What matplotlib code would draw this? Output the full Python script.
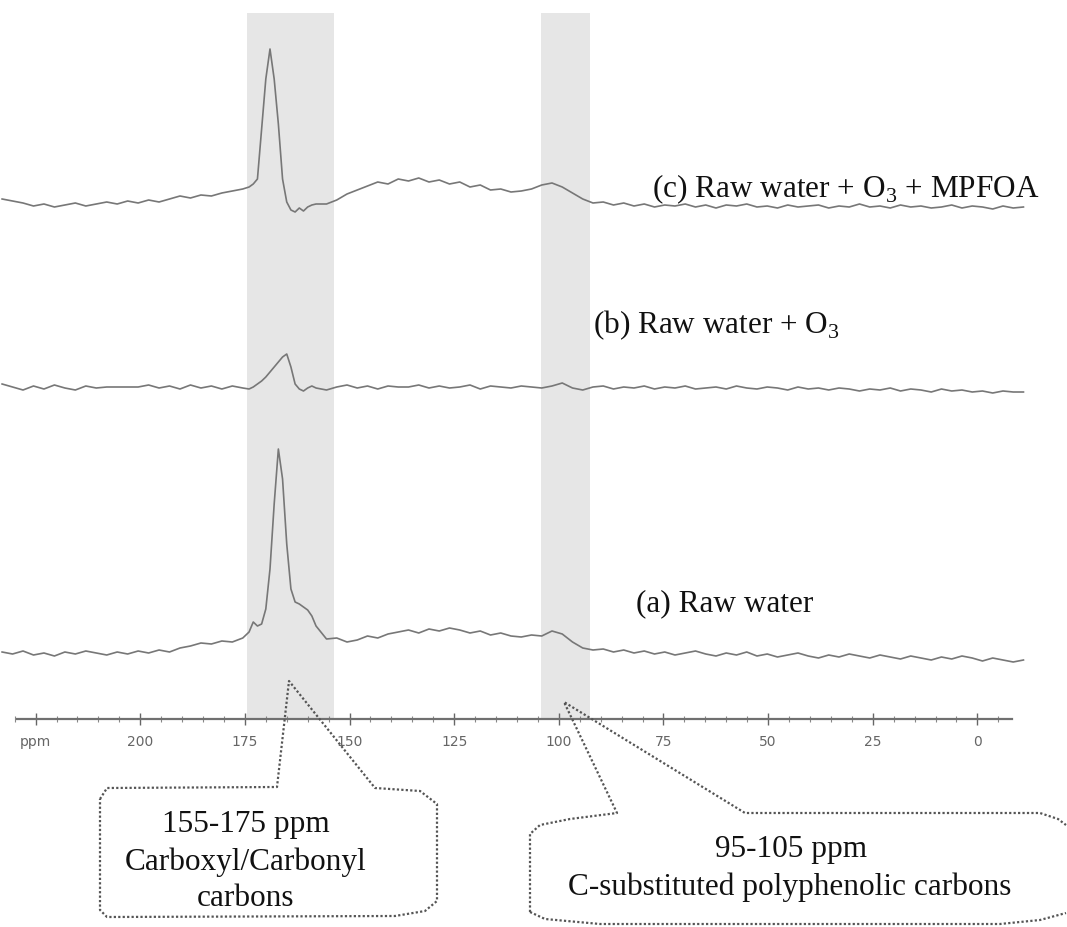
import numpy as np
import matplotlib
matplotlib.use('Agg')
import matplotlib.pyplot as plt

plt.rcParams['mathtext.fontset'] = 'custom'
plt.rcParams['mathtext.rm'] = 'Liberation Serif'

# chemical shift grid (ppm), finer around the carbonyl peak
ppm = np.concatenate([np.linspace(233, 175.5, 24),
                      np.linspace(174, 158, 17),
                      np.linspace(155.5, -11, 69)])

# intensities (arbitrary units, baseline = 0)
raw_c = [5, 3, 1, -2, 0, -3, -1, 1, -2, 0, 2, 0, 3, 1, 4, 2, 5, 8, 6, 9, 8, 11, 13, 15,
         17, 20, 25, 75, 125, 155, 125, 80, 25, 2, -6, -8, -4, -7, -3, -1, 0,
         0, 4, 10, 14, 18, 22, 20, 25, 23, 26, 22, 24, 20, 22, 17, 19, 14, 15, 12, 13,
         15, 19, 21, 17, 11, 5, 1, 2, -1, 1, -2, 0, -3, -1, -2, 0, -3, -1, -4, -1, -2,
         0, -3, -2, -4, -1, -3, -2, -1, -4, -2, -3, 0, -3, -2, -4, -1, -3, -2, -4, -3,
         -1, -4, -2, -3, -5, -2, -4, -3]
raw_b = [3, 0, -3, 1, -2, 2, -1, -3, 1, -1, 0, 0, 0, 0, 2, -1, 1, -2, 2, -1, 1, -2, 1, -1,
         -2, 0, 3, 6, 10, 15, 20, 25, 30, 33, 20, 3, -2, -4, -1, 1, -1,
         -3, 0, 2, -1, 1, -2, 1, 0, 0, 2, -1, 1, -1, 0, 2, -2, 1, 0, -1, 1,
         0, -1, 1, 4, -1, -3, 0, 1, -2, 0, -1, 1, -2, 0, -1, 1, -2, -1, 0, -2, 1,
         -1, -2, 0, -1, -3, 0, -2, -1, -3, -1, -2, -4, -2, -3, -1, -4, -2, -3, -5, -2,
         -4, -3, -5, -4, -6, -4, -5, -5]
raw_a = [2, 0, 3, -1, 1, -2, 2, 0, 3, 1, -1, 2, 0, 3, 1, 4, 2, 6, 8, 11, 10, 13, 12, 16,
         22, 32, 28, 30, 45, 85, 150, 205, 175, 110, 65, 52, 50, 47, 44, 38, 28,
         15, 16, 12, 14, 18, 16, 20, 22, 24, 21, 25, 23, 26, 24, 21, 23, 19, 21, 18, 17,
         19, 18, 23, 20, 12, 6, 4, 5, 2, 4, 1, 3, 0, 2, -1, 1, 3, 0, -2, 1, -1,
         2, -2, 0, -3, -1, 1, -2, -4, -1, -3, 0, -2, -4, -1, -3, -5, -2, -4, -6, -3,
         -5, -2, -4, -7, -4, -6, -8, -6]

spectra = [raw_a, raw_b, raw_c]
offsets = [65, 332, 515]
labels = ['(a) Raw water', r'(b) Raw water + O$_\mathregular{3}$',
          r'(c) Raw water + O$_\mathregular{3}$ + MPFOA']

bands = [(153.6, 174.4), (92.5, 104.2)]

major_ticks = [225, 200, 175, 150, 125, 100, 75, 50, 25, 0]
major_labels = ['ppm', '200', '175', '150', '125', '100', '75', '50', '25', '0']

fig = plt.figure(figsize=(10.67, 9.28), dpi=100)
ax = fig.add_axes([0, 208 / 928, 1, 720 / 928])
ax.set_xlim(233.5, -21.4)
ax.set_ylim(0, 720)
ax.patch.set_alpha(0)

for lo, hi in bands:
    ax.axvspan(lo, hi, ymin=0, ymax=0.98, color='#e6e6e6', lw=0, zorder=0)

for y, off in zip(spectra, offsets):
    ax.plot(ppm, np.array(y) + off, color='#777777', lw=1.2, zorder=2)

for sp in ['top', 'left', 'right']:
    ax.spines[sp].set_visible(False)
ax.spines['bottom'].set_bounds(229.4, -8.3)
ax.spines['bottom'].set_color('#707070')
ax.spines['bottom'].set_linewidth(1.6)
ax.set_yticks([])
ax.set_xticks(major_ticks)
ax.set_xticklabels(major_labels)
ax.set_xticks(np.arange(230, -6, -5), minor=True)
ax.tick_params(axis='x', which='major', direction='inout', length=9, width=1,
               color='#666666', labelsize=10, labelcolor='#666666', pad=6)
ax.tick_params(axis='x', which='minor', direction='inout', length=5, width=0.8,
               color='#888888')

# overlay in pixel coordinates for labels and callouts
ov = fig.add_axes([0, 0, 1, 1], zorder=3)
ov.set_xlim(0, 1067)
ov.set_ylim(928, 0)
ov.axis('off')
ov.patch.set_alpha(0)

tfont = dict(family='Liberation Serif', fontsize=22.5, color='#111111')
ov.text(636, 604, labels[0], ha='left', va='center', **tfont)
ov.text(593, 325, labels[1], ha='left', va='center', **tfont)
ov.text(652, 189, labels[2], ha='left', va='center', **tfont)

box1 = [(100, 800), (107, 789), (277, 788), (289, 682), (375, 789), (420, 792),
        (437, 805), (437, 902), (425, 912), (395, 917), (107, 918), (100, 911), (100, 800)]
box2 = [(530, 913), (530, 835), (540, 826), (570, 820), (617, 814), (564, 703),
        (745, 814), (1040, 814), (1058, 820), (1066, 826)]
box2_bottom = [(530, 913), (545, 920), (600, 925), (1000, 925), (1040, 921), (1066, 914)]
dot = dict(color='#555555', lw=1.6, ls=(0, (1, 1)))
ov.plot(*zip(*box1), **dot)
ov.plot(*zip(*box2), **dot)
ov.plot(*zip(*box2_bottom), **dot)

ov.text(246, 825, '155-175 ppm', ha='center', va='center', **tfont)
ov.text(246, 862, 'Carboxyl/Carbonyl', ha='center', va='center', **tfont)
ov.text(246, 899, 'carbons', ha='center', va='center', **tfont)
ov.text(791, 850, '95-105 ppm', ha='center', va='center', **tfont)
ov.text(790, 887, 'C-substituted polyphenolic carbons', ha='center', va='center', **tfont)

fig.savefig('out.png', dpi=100)
